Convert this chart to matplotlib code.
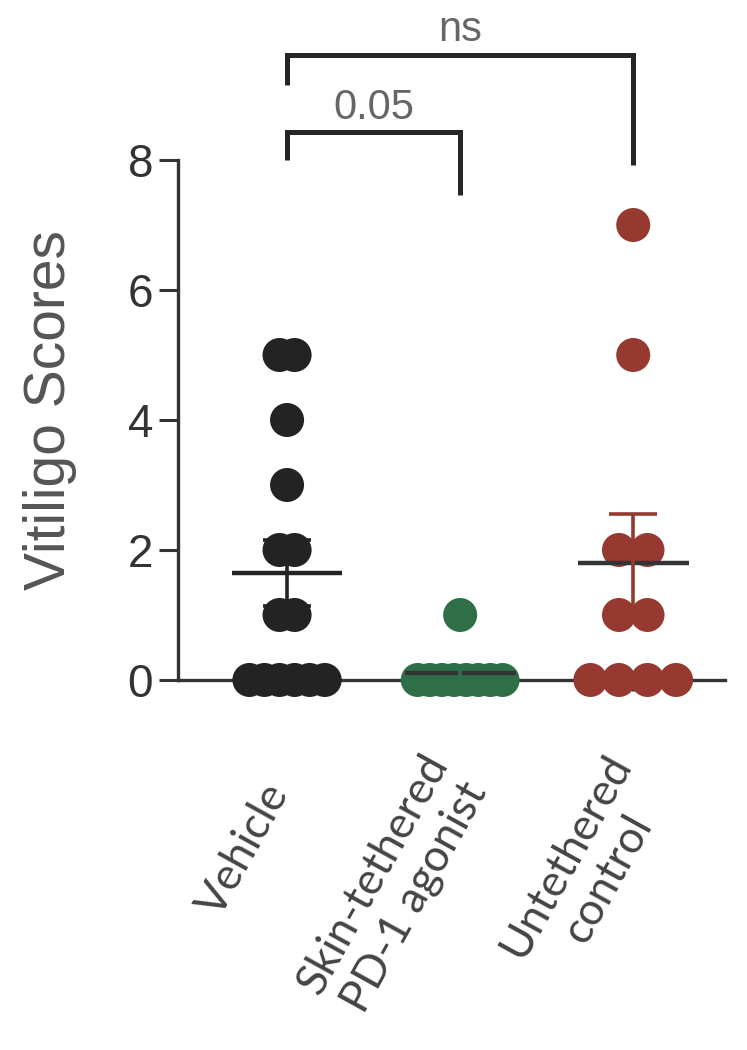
import numpy as np
import matplotlib
matplotlib.use("Agg")
import matplotlib.pyplot as plt

# ---- data ----
groups = ["Vehicle", "Skin-tethered\nPD-1 agonist", "Untethered\ncontrol"]
vehicle = [5, 5, 4, 3, 2, 2, 1, 1, 0, 0, 0, 0, 0, 0]
skin_pd1 = [1, 0, 0, 0, 0, 0, 0, 0, 0]
untethered = [7, 5, 2, 2, 1, 1, 0, 0, 0, 0]
y_ticks = [0, 2, 4, 6, 8]
comparisons = [("0.05", 0, 1), ("ns", 0, 2)]

# ---- style ----
colors = ["#232323", "#2f6f47", "#963a31"]
spacing = [0.087, 0.07, 0.165]
label_offset_pt = [(-31, -122), (-47.5, -148), (-33, -135)]
axis_col = "#333333"

fig = plt.figure(figsize=(7.47, 10.5), dpi=100)
ax = fig.add_axes([0.2383, 0.3524, 0.7322, 0.4952])

data = [vehicle, skin_pd1, untethered]
xpos = np.arange(1, len(groups) + 1)

for i, (vals, c, sp) in enumerate(zip(data, colors, spacing)):
    vals = np.asarray(vals, dtype=float)
    xs = np.zeros_like(vals)
    for v in np.unique(vals):
        idx = np.where(vals == v)[0]
        k = len(idx)
        xs[idx] = (np.arange(k) - (k - 1) / 2) * sp
    ax.scatter(xpos[i] + xs, vals, s=600, color=c, edgecolor="none",
               zorder=3, clip_on=False)
    m = vals.mean()
    sem = vals.std(ddof=1) / np.sqrt(len(vals))
    ax.plot([xpos[i] - 0.32, xpos[i] + 0.32], [m, m], color=axis_col if i else c,
            lw=3.2, zorder=4, solid_capstyle="butt")
    ax.errorbar(xpos[i], m, yerr=sem, fmt="none", ecolor=c, elinewidth=2.6,
                capsize=17, capthick=2.6, zorder=4)

ax.set_xlim(0.37, 3.53)
ax.set_ylim(0, 8)
ax.set_yticks(y_ticks)
ax.set_yticklabels([str(t) for t in y_ticks], fontsize=33, color="#333333",
                   family="Liberation Sans")
ax.set_xticks(xpos)
ax.set_xticklabels([])
for x, name, off in zip(xpos, groups, label_offset_pt):
    ax.annotate(name, xy=(x, 0), xycoords="data", xytext=off,
                textcoords="offset points", rotation=61, rotation_mode="anchor",
                ha="center", va="center", multialignment="center",
                fontsize=32, color="#444444", family="Lato",
                annotation_clip=False)
ax.tick_params(axis="y", length=14, width=2.2, color=axis_col, pad=4)
ax.tick_params(axis="x", length=8, width=2.2, color=axis_col)
for s in ["top", "right"]:
    ax.spines[s].set_visible(False)
for s in ["left", "bottom"]:
    ax.spines[s].set_linewidth(2.4)
    ax.spines[s].set_color(axis_col)

ax.set_ylabel("Vitiligo Scores", fontsize=41, color="#555555",
              family="Liberation Sans")
ax.yaxis.set_label_coords(-0.185, 0.52)

# significance brackets
bracket = {
    "0.05": dict(bar=8.43, left=8.0, right=7.46, text=8.8),
    "ns": dict(bar=9.62, left=9.15, right=7.92, text=10.0),
}
for label, a, b in comparisons:
    g = bracket[label]
    x1, x2 = xpos[a], xpos[b]
    ax.plot([x1, x1, x2, x2], [g["left"], g["bar"], g["bar"], g["right"]],
            color="#262626", lw=3.6, clip_on=False, solid_joinstyle="miter",
            solid_capstyle="butt")
    ax.text((x1 + x2) / 2, g["text"], label, ha="center", va="center",
            fontsize=30, color="#666666", family="Liberation Sans", clip_on=False)

fig.savefig("out.png", dpi=100, facecolor="white")
